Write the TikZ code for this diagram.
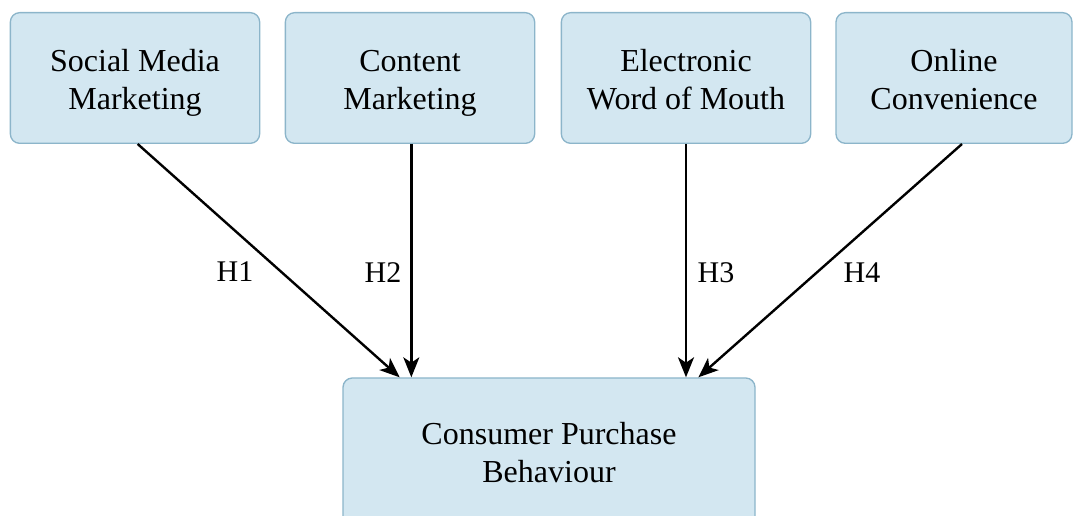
\documentclass[tikz,border=0pt]{standalone}
\usepackage{fontspec}
\setmainfont{Liberation Serif}
\usetikzlibrary{arrows.meta}
\definecolor{boxfill}{HTML}{D3E7F1}
\definecolor{boxline}{HTML}{8CB5CA}

\begin{document}
\begin{tikzpicture}[x=0.75pt, y=-0.75pt,
  factor/.style = {shape=rectangle, rounded corners=7pt,
    draw=boxline, fill=boxfill, line width=1pt, align=center,
    minimum width=187pt, minimum height=98pt, inner sep=0pt,
    font=\fontsize{24}{28.5}\selectfont,
    execute at begin node={\rule[-8.5pt]{0pt}{65pt}}},
  link/.style = {-{Stealth[length=15pt, width=12pt, inset=4pt]}, line width=1.8pt},
  hyp/.style = {font=\fontsize{22.5}{26}\selectfont}]
  \useasboundingbox (0,0) rectangle (1074,516);
  \clip (0,0) rectangle (1074,516);

  % the four drivers
  \node [factor] (smm) at (135,78) {Social Media\\Marketing};
  \node [factor] (cm)  at (410,78) {Content\\Marketing};
  \node [factor] (ewom) at (686,78) {Electronic\\Word of Mouth};
  \node [factor, minimum width=177pt] (oc) at (954,78) {Online\\Convenience};

  % outcome (runs off the bottom edge)
  \node [factor, minimum width=309pt, minimum height=120pt,
    execute at begin node={\rule[-20pt]{0pt}{73pt}}] (cpb) at (549,458)
    {Consumer Purchase\\Behaviour};

  % hypotheses
  \draw [link] ([xshift=2pt]smm.south) -- ([xshift=43pt]cpb.north west);
  \draw [link] ([xshift=1pt]cm.south) -- ([xshift=1pt]cm.south |- cpb.north);
  \draw [link] (ewom.south) -- (ewom.south |- cpb.north);
  \draw [link] ([xshift=6pt]oc.south) -- ([xshift=-43pt]cpb.north east);

  \node [hyp] (h1) at (235,272) {H1};
  \node [hyp] (h2) at (383,273) {H2};
  \node [hyp] (h3) at (716,273) {H3};
  \node [hyp] (h4) at (862,273) {H4};
\end{tikzpicture}
\end{document}
